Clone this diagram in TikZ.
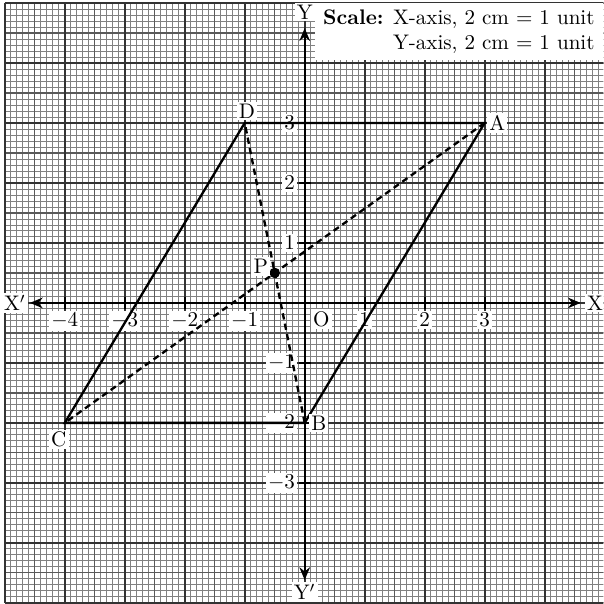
\documentclass[tikz,border=0pt]{standalone}
\usepackage{amsmath}
\usepackage{tikz}
\usetikzlibrary{arrows.meta, positioning}

\begin{document}
\begin{tikzpicture}[
    minorline/.style={black!50, line width=0.4pt},
    midline/.style={black!65, line width=0.6pt},
    majorline/.style={black!80, line width=0.9pt},
    axisline/.style={black, line width=1pt, {Stealth[length=6pt, width=5pt]}-{Stealth[length=6pt, width=5pt]}},
    tickmark/.style={black, line width=1pt},
    side/.style={black, line width=1.1pt},
    diag/.style={black, line width=1.1pt, dash pattern=on 3pt off 2pt},
    lbl/.style={fill=white, inner sep=1pt},
    dot/.style={circle, fill=black, inner sep=0pt, minimum size=5pt}
]

\useasboundingbox (-5.08,-5.02) rectangle (4.98,5.05);
\clip (-5.08,-5.02) rectangle (4.98,5.05);
\fill[white] (-5.08,-5.02) rectangle (4.98,5.05);

% Graph paper
\draw[minorline] (-5,-5) grid[step=0.1] (5,5);
\draw[midline] (-5,-5) grid[step=0.5] (5,5);
\draw[majorline] (-5,-5) grid[step=1] (5,5);

% Scale
\node[fill=white, anchor=north east, align=right, inner xsep=4pt, inner ysep=3pt,
      minimum width=4.5cm, minimum height=0.95cm] (scale) at (4.98,5.0)
    {\textbf{Scale:} X-axis, 2 cm = 1 unit\\ Y-axis, 2 cm = 1 unit};

% Axes
\coordinate (xneg) at (-4.58,0);
\coordinate (xpos) at (4.6,0);
\coordinate (ypos) at (0,4.58);
\coordinate (yneg) at (0,-4.62);
\draw[axisline] (xneg) -- (xpos);
\draw[axisline] (yneg) -- (ypos);
\node[lbl] (xl) at (-4.83,0) {X$'$};
\node[lbl] (xr) at (4.84,0) {X};
\node[lbl] (yt) at (0,4.85) {Y};
\node[lbl] (yb) at (0,-4.82) {Y$'$};
\node[lbl, anchor=north west] (orig) at (0.1,-0.1) {O};

\foreach \x in {-4,-3,-2,-1,1,2,3} {
    \draw[tickmark] (\x,-0.1) -- (\x,0.1);
    \node[lbl, anchor=north] (xt\x) at (\x,-0.13) {$\x$};
}
\foreach \y in {-3,-2,-1,1,2,3} {
    \draw[tickmark] (-0.1,\y) -- (0.1,\y);
    \node[lbl, anchor=east] (yt\y) at (-0.12,\y) {$\y$};
}

% Parallelogram ABCD
\coordinate (A) at (3,3);
\coordinate (B) at (0,-2);
\coordinate (C) at (-4,-2);
\coordinate (D) at (-1,3);
\coordinate (P) at (-0.5,0.5);
\draw[side] (A) -- (B) -- (C) -- (D) -- cycle;
\draw[diag] (A) -- (C);
\draw[diag] (B) -- (D);
\node[dot] (Pdot) at (P) {};

\node[lbl, right=1pt of A] (labA) {A};
\node[lbl, right=2pt of B] (labB) {B};
\node[lbl, anchor=north east] at ([xshift=2pt, yshift=-3pt]C) (labC) {C};
\node[lbl, anchor=south] at ([xshift=1pt, yshift=1pt]D) (labD) {D};
\node[lbl, anchor=east] at ([xshift=-2pt, yshift=3pt]P) (labP) {P};

\end{tikzpicture}
\end{document}
